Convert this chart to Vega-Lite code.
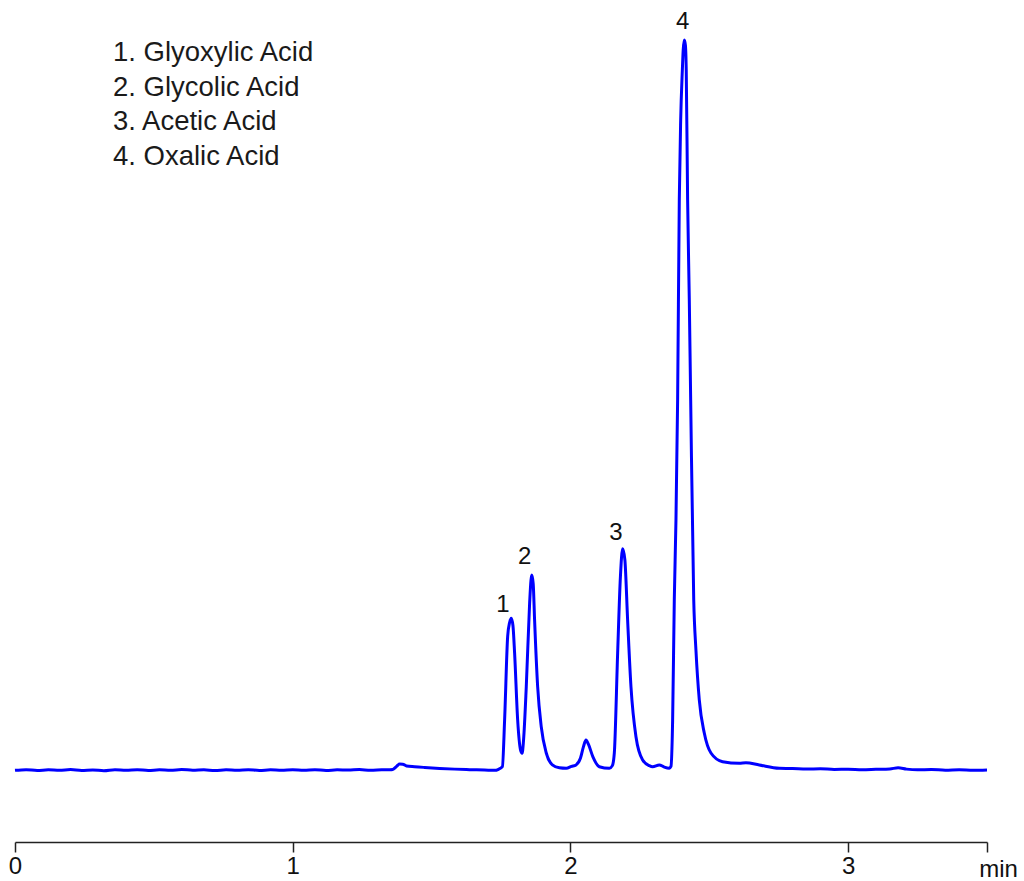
{
  "$schema": "https://vega.github.io/schema/vega-lite/v6.json",
  "width": 972,
  "height": 832,
  "autosize": {"type": "none"},
  "padding": {"left": 15, "top": 10, "right": 37, "bottom": 39},
  "background": "white",
  "title": {
    "text": ["1. Glyoxylic Acid", "2. Glycolic Acid", "3. Acetic Acid", "4. Oxalic Acid"],
    "anchor": "start",
    "frame": "group",
    "orient": "top",
    "offset": 0,
    "font": "Liberation Sans",
    "fontSize": 27.5,
    "fontWeight": "normal",
    "color": "#1a1a1a",
    "lineHeight": 34.5,
    "baseline": "top",
    "dx": 98,
    "dy": 160
  },
  "datasets": {
    "chrom": [
      {"t": 0.00, "v": -0.05}, {"t": 0.04, "v": 0.05}, {"t": 0.08, "v": -0.08}, {"t": 0.12, "v": 0.02},
      {"t": 0.16, "v": -0.04}, {"t": 0.20, "v": 0.06}, {"t": 0.24, "v": -0.06}, {"t": 0.28, "v": 0.00},
      {"t": 0.32, "v": -0.10}, {"t": 0.36, "v": 0.04}, {"t": 0.40, "v": -0.03}, {"t": 0.44, "v": 0.05},
      {"t": 0.48, "v": -0.07}, {"t": 0.52, "v": 0.02}, {"t": 0.56, "v": -0.05}, {"t": 0.60, "v": 0.06},
      {"t": 0.64, "v": -0.02}, {"t": 0.68, "v": 0.03}, {"t": 0.72, "v": -0.08}, {"t": 0.76, "v": 0.04},
      {"t": 0.80, "v": -0.03}, {"t": 0.84, "v": 0.05}, {"t": 0.88, "v": -0.06}, {"t": 0.92, "v": 0.02},
      {"t": 0.96, "v": -0.04}, {"t": 1.00, "v": 0.05}, {"t": 1.04, "v": -0.02}, {"t": 1.08, "v": 0.04},
      {"t": 1.12, "v": -0.07}, {"t": 1.16, "v": 0.03}, {"t": 1.20, "v": 0.00}, {"t": 1.24, "v": 0.06},
      {"t": 1.28, "v": -0.03}, {"t": 1.32, "v": 0.03}, {"t": 1.35, "v": 0.05},
      {"t": 1.360, "v": 0.08}, {"t": 1.374, "v": 0.50}, {"t": 1.385, "v": 0.82}, {"t": 1.396, "v": 0.80},
      {"t": 1.410, "v": 0.55}, {"t": 1.439, "v": 0.45}, {"t": 1.475, "v": 0.35}, {"t": 1.529, "v": 0.22},
      {"t": 1.583, "v": 0.12}, {"t": 1.637, "v": 0.05}, {"t": 1.691, "v": 0.00}, {"t": 1.727, "v": -0.05},
      {"t": 1.741, "v": 0.10}, {"t": 1.755, "v": 0.45}, {"t": 1.763, "v": 6.85}, {"t": 1.774, "v": 18.3},
      {"t": 1.781, "v": 20.2}, {"t": 1.787, "v": 20.8}, {"t": 1.793, "v": 19.8}, {"t": 1.799, "v": 16.0},
      {"t": 1.810, "v": 6.85}, {"t": 1.820, "v": 2.8}, {"t": 1.826, "v": 2.3}, {"t": 1.831, "v": 4.0},
      {"t": 1.841, "v": 11.4}, {"t": 1.853, "v": 22.8}, {"t": 1.858, "v": 26.0}, {"t": 1.861, "v": 26.7},
      {"t": 1.866, "v": 25.5}, {"t": 1.871, "v": 20.5}, {"t": 1.882, "v": 11.4}, {"t": 1.895, "v": 5.9},
      {"t": 1.913, "v": 2.33}, {"t": 1.935, "v": 0.7}, {"t": 1.960, "v": 0.3}, {"t": 1.985, "v": 0.23},
      {"t": 2.004, "v": 0.5}, {"t": 2.020, "v": 0.7}, {"t": 2.036, "v": 1.6}, {"t": 2.047, "v": 3.2},
      {"t": 2.056, "v": 4.1}, {"t": 2.065, "v": 3.5}, {"t": 2.081, "v": 1.8}, {"t": 2.104, "v": 0.45},
      {"t": 2.140, "v": 0.23}, {"t": 2.151, "v": 0.6}, {"t": 2.158, "v": 2.3}, {"t": 2.170, "v": 16.0},
      {"t": 2.180, "v": 26.5}, {"t": 2.188, "v": 30.3}, {"t": 2.196, "v": 28.8}, {"t": 2.206, "v": 20.5},
      {"t": 2.218, "v": 11.4}, {"t": 2.236, "v": 4.56}, {"t": 2.260, "v": 1.37}, {"t": 2.284, "v": 0.6},
      {"t": 2.296, "v": 0.45}, {"t": 2.320, "v": 0.7}, {"t": 2.338, "v": 0.4}, {"t": 2.356, "v": 0.25},
      {"t": 2.362, "v": 0.5}, {"t": 2.368, "v": 6.8}, {"t": 2.374, "v": 23.3}, {"t": 2.380, "v": 34.2},
      {"t": 2.386, "v": 50.7}, {"t": 2.392, "v": 78.1}, {"t": 2.397, "v": 89.0}, {"t": 2.403, "v": 95.9},
      {"t": 2.406, "v": 98.6}, {"t": 2.410, "v": 100.0}, {"t": 2.414, "v": 99.3}, {"t": 2.417, "v": 95.9},
      {"t": 2.422, "v": 78.1}, {"t": 2.428, "v": 64.4}, {"t": 2.433, "v": 50.7}, {"t": 2.444, "v": 23.3},
      {"t": 2.452, "v": 16.4}, {"t": 2.464, "v": 9.6}, {"t": 2.482, "v": 5.07}, {"t": 2.506, "v": 2.33},
      {"t": 2.548, "v": 1.14}, {"t": 2.608, "v": 0.92}, {"t": 2.632, "v": 1.0}, {"t": 2.680, "v": 0.68},
      {"t": 2.752, "v": 0.23}, {"t": 2.80, "v": 0.20}, {"t": 2.85, "v": 0.12}, {"t": 2.90, "v": 0.18},
      {"t": 2.95, "v": 0.08}, {"t": 3.00, "v": 0.10}, {"t": 3.05, "v": 0.05}, {"t": 3.10, "v": 0.10},
      {"t": 3.15, "v": 0.15}, {"t": 3.18, "v": 0.30}, {"t": 3.21, "v": 0.12}, {"t": 3.25, "v": 0.02},
      {"t": 3.30, "v": 0.06}, {"t": 3.35, "v": -0.02}, {"t": 3.40, "v": 0.05}, {"t": 3.45, "v": -0.05},
      {"t": 3.50, "v": 0.00}
    ],
    "peaks": [
      {"label": "1", "t": 1.757, "v": 22.6},
      {"label": "2", "t": 1.835, "v": 29.2},
      {"label": "3", "t": 2.164, "v": 32.5},
      {"label": "4", "t": 2.404, "v": 102.4}
    ]
  },
  "encoding": {
    "x": {
      "field": "t",
      "type": "quantitative",
      "scale": {"domain": [0, 3.5], "nice": false, "zero": false},
      "axis": {
        "values": [0, 1, 2, 3, 3.5],
        "labelExpr": "datum.value == 3.5 ? '' : format(datum.value, 'd')",
        "title": "min",
        "titleX": 983,
        "titleY": 34,
        "titleAlign": "center",
        "titleBaseline": "alphabetic",
        "titleFont": "Liberation Sans",
        "titleFontSize": 24,
        "titleFontWeight": "normal",
        "titleColor": "#111111",
        "grid": false,
        "domainColor": "#222222",
        "domainWidth": 1.5,
        "tickColor": "#222222",
        "tickWidth": 1.5,
        "tickSize": 10,
        "labelFont": "Liberation Sans",
        "labelFontSize": 24,
        "labelColor": "#111111",
        "labelPadding": 2,
        "labelFlush": false,
        "labelOverlap": false
      }
    },
    "y": {
      "field": "v",
      "type": "quantitative",
      "scale": {"domain": [-9.863, 104.11], "nice": false, "zero": false},
      "axis": null
    }
  },
  "layer": [
    {
      "data": {"name": "chrom"},
      "mark": {"type": "line", "color": "#0000ff", "strokeWidth": 3, "interpolate": "monotone", "clip": false}
    },
    {
      "data": {"name": "peaks"},
      "mark": {"type": "text", "font": "Liberation Sans", "fontSize": 24, "color": "#111111", "baseline": "middle", "align": "center"},
      "encoding": {"text": {"field": "label"}}
    }
  ],
  "config": {"view": {"stroke": null}}
}
